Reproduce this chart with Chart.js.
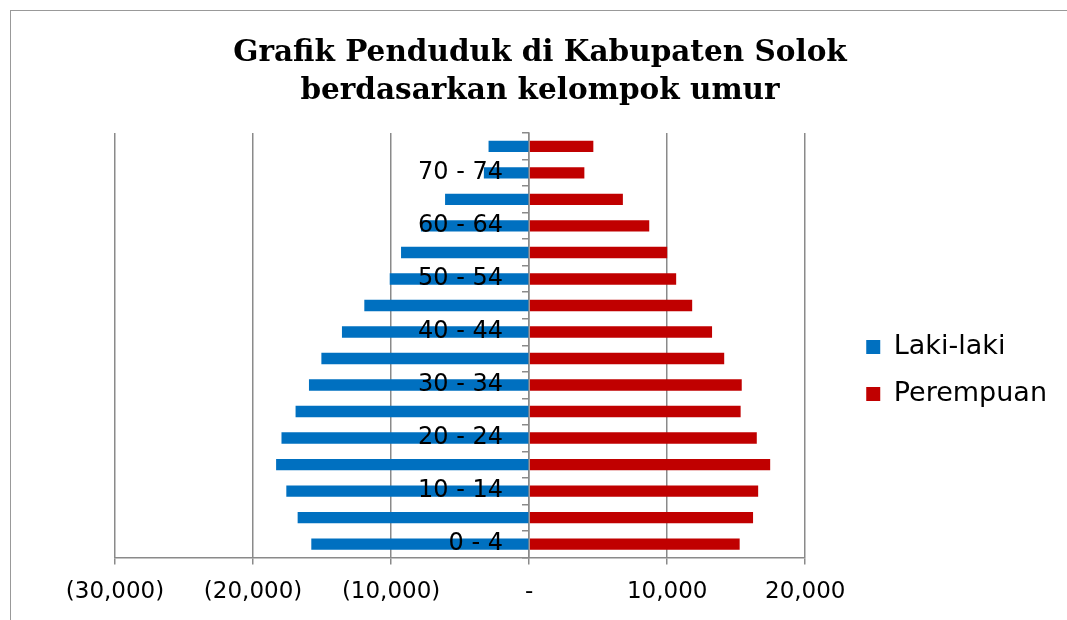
<!DOCTYPE html>
<html>
<head>
<meta charset="utf-8">
<script src="https://cdn.jsdelivr.net/npm/chart.js@4/dist/chart.umd.min.js"></script>
<style>
  html, body { margin: 0; padding: 0; background: #fff; }
  #wrap { position: relative; width: 1067px; height: 620px; overflow: hidden; }
  #frame { position: absolute; left: 10px; top: 10px; width: 1100px; height: 700px;
           border-left: 1px solid #999; border-top: 1px solid #999; }
  canvas { position: absolute; left: 0; top: 0; }
</style>
</head>
<body>
<div id="wrap">
  <div id="frame"></div>
  <canvas id="chart" width="1067" height="620"></canvas>
</div>
<script>
// data: age groups from youngest to oldest
const ageGroups = ['0 - 4', '5 - 9', '10 - 14', '15 - 19', '20 - 24', '25 - 29', '30 - 34', '35 - 39',
                   '40 - 44', '45 - 49', '50 - 54', '55 - 59', '60 - 64', '65 - 69', '70 - 74', '75+'];
const lakiLaki = [-15780, -16770, -17590, -18330, -17940, -16920, -15950, -15050,
                  -13560, -11940, -10100, -9280, -7840, -6090, -3280, -2940];
const perempuan = [15250, 16220, 16590, 17460, 16490, 15320, 15400, 14130,
                   13250, 11810, 10650, 10000, 8700, 6790, 4000, 4650];
const xTicks = [-30000, -20000, -10000, 0, 10000, 20000];

const labelFont = 'DejaVu Sans';
const gridColor = '#8a8a8a';

function fmtAccounting(v) {
  if (v === 0) return '-';
  const s = Math.abs(v).toLocaleString('en-US');
  return v < 0 ? '(' + s + ')' : s;
}

// empty axes used only to reserve room beside the plot
const spacer = (pos, w) => ({
  type: 'category', position: pos, display: true,
  grid: { display: false }, border: { display: false }, ticks: { display: false },
  afterFit: s => { s.width = w; }
});

new Chart(document.getElementById('chart'), {
  type: 'bar',
  data: {
    labels: ageGroups,
    datasets: [
      { label: 'Laki-laki', data: lakiLaki, backgroundColor: '#0070C0' },
      { label: 'Perempuan', data: perempuan, backgroundColor: '#C00000' }
    ]
  },
  options: {
    indexAxis: 'y',
    responsive: false,
    animation: false,
    devicePixelRatio: 1,
    layout: { padding: { left: 23, right: 10, top: 34, bottom: 0 } },
    datasets: { bar: { categoryPercentage: 1, barPercentage: 0.43 } },
    scales: {
      x: {
        min: xTicks[0],
        max: xTicks[xTicks.length - 1],
        afterBuildTicks: axis => { axis.ticks = xTicks.map(v => ({ value: v })); },
        grid: { color: gridColor, lineWidth: 1.5, tickLength: 7 },
        border: { display: true, color: gridColor, width: 1.5 },
        ticks: {
          color: '#000', padding: 14,
          font: { family: labelFont, size: 23 },
          callback: v => fmtAccounting(v)
        }
      },
      // category axis on the zero line: line and small ticks only
      y: {
        stacked: true,
        reverse: true,
        position: { x: 0 },
        grid: { display: true, drawOnChartArea: false, offset: true, tickLength: 6, color: gridColor, lineWidth: 1.5 },
        border: { display: true, color: gridColor, width: 1.5 },
        ticks: { display: false }
      },
      // age labels, every second group, drawn over the bars
      yLabels: {
        type: 'category',
        reverse: true,
        offset: true,
        position: { x: -1890 },
        grid: { display: false },
        border: { display: false },
        ticks: {
          z: 1, autoSkip: false, padding: 0, color: '#000',
          font: { family: labelFont, size: 24 },
          callback: (v, i) => (i % 2 === 0 ? ageGroups[i] : '')
        }
      },
      padLeft: spacer('left', 92),
      padRight: spacer('right', 41)
    },
    plugins: {
      title: {
        display: true,
        text: ['Grafik Penduduk di Kabupaten Solok', 'berdasarkan kelompok umur'],
        color: '#000',
        font: { family: 'DejaVu Serif', size: 29.5, weight: 'bold', lineHeight: 1.29 },
        padding: { top: 0, bottom: 23 }
      },
      legend: {
        position: 'right',
        align: 'center',
        maxWidth: 300,
        // blank title only pushes the entries down a little
        title: { display: true, text: ' ', font: { size: 1, lineHeight: 1 }, padding: { top: 86, bottom: 0 } },
        labels: {
          color: '#000', boxWidth: 14, boxHeight: 14, padding: 20,
          font: { family: labelFont, size: 27 }
        }
      },
      tooltip: { enabled: false }
    }
  }
});
</script>
</body>
</html>
